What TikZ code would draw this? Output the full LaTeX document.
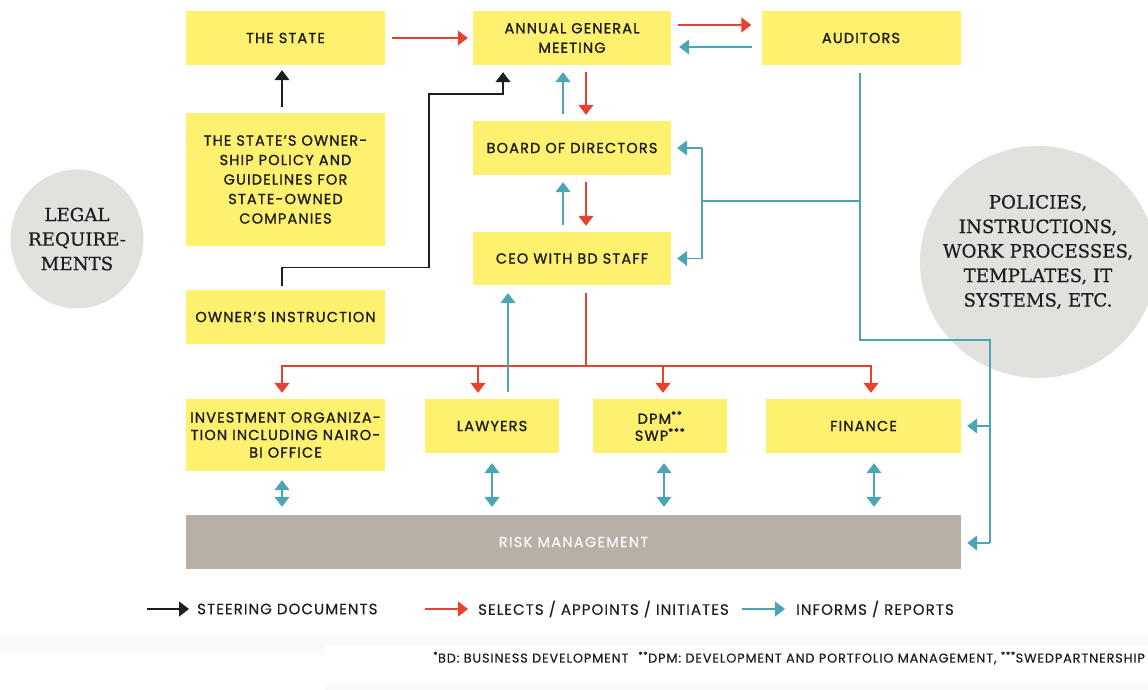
\documentclass[tikz,border=0pt]{standalone}
\usepackage{fontspec}
\setmainfont{Poppins}
\newfontfamily\boxfont{Poppins}[FakeBold=1.3, LetterSpace=8]
\newfontfamily\legfont{Poppins}[FakeBold=0.4, LetterSpace=7]
\newfontfamily\riskfont{Poppins}[FakeBold=0.4, LetterSpace=9]
\newfontfamily\slab{DejaVu Serif}[FakeBold=0.6]
\usetikzlibrary{arrows.meta,calc,shapes.geometric}
\definecolor{boxyellow}{HTML}{FFF170}
\definecolor{riskgray}{HTML}{B8B0A6}
\definecolor{ellgray}{HTML}{E3E1DD}
\definecolor{redc}{HTML}{E8412F}
\definecolor{bluec}{HTML}{4BA5B5}
\definecolor{inkc}{HTML}{1E1E1E}
\definecolor{bandc}{HTML}{FAFAFA}
\tikzset{
  ybox/.style={fill=boxyellow, inner sep=0pt, align=center, text=inkc,
    font=\boxfont\fontsize{14.5}{19.5}\selectfont},
  redln/.style={draw=redc, line width=1.2pt},
  redarr/.style={redln, -{Triangle[width=15pt,length=10pt]}},
  blueln/.style={draw=bluec, line width=1.1pt},
  bluearr/.style={blueln, -{Triangle[width=15pt,length=10pt]}},
  bluedbl/.style={blueln, {Triangle[width=15pt,length=10pt]}-{Triangle[width=15pt,length=10pt]}},
  blkarr/.style={draw=inkc, line width=1.2pt, -{Triangle[width=15pt,length=10pt]}},
  grayell/.style={ellipse, fill=ellgray, inner sep=0pt},
  slabtxt/.style={align=center, text=inkc, inner sep=0pt,
    font=\slab\fontsize{18.2}{24.5}\selectfont},
  legtxt/.style={anchor=west, inner sep=0pt, text=inkc,
    font=\legfont\fontsize{15}{18}\selectfont},
}
\begin{document}
\begin{tikzpicture}[x=1pt,y=-1pt]
\useasboundingbox (0,0) rectangle (1148,690);
\fill[bandc] (0,636) rectangle (1148,690);
\fill[white] (325,645) rectangle (1148,684);
\fill[white] (0,655) rectangle (325,690);

% ellipses
\node[grayell, minimum width=133pt, minimum height=139pt] (legal) at (77,239) {};
\node[slabtxt] (legaltxt) at (77,239) {LEGAL\\REQUIRE-\\MENTS};
\node[grayell, minimum width=236pt, minimum height=232pt] (polell) at (1038,262) {};
\node[slabtxt] (poltxt) at (1038,252) {POLICIES,\\INSTRUCTIONS,\\WORK PROCESSES,\\TEMPLATES, IT\\SYSTEMS, ETC.};

% boxes
\node[ybox, minimum width=199pt, minimum height=54pt] (state) at (285.5,38) {THE STATE};
\node[ybox, minimum width=198pt, minimum height=54pt] (agm) at (572,38) {ANNUAL GENERAL\\MEETING};
\node[ybox, minimum width=199pt, minimum height=54pt] (aud) at (861,38) {AUDITORS};
\node[ybox, minimum width=199pt, minimum height=132pt] (policy) at (285.5,179.5) {THE STATE’S OWNER-\\SHIP POLICY AND\\GUIDELINES FOR\\STATE-OWNED\\COMPANIES};
\node[ybox, minimum width=198pt, minimum height=54pt] (bod) at (572,148) {BOARD OF DIRECTORS};
\node[ybox, minimum width=198pt, minimum height=53pt] (ceo) at (572,258.5) {CEO WITH BD STAFF};
\node[ybox, minimum width=199pt, minimum height=54pt] (owner) at (285.5,317) {OWNER’S INSTRUCTION};
\node[ybox, minimum width=199pt, minimum height=72pt, font=\boxfont\fontsize{14.5}{17.5}\selectfont] (inv) at (285.5,435) {INVESTMENT ORGANIZA-\\TION INCLUDING NAIRO-\\BI OFFICE};
\node[ybox, minimum width=134pt, minimum height=54pt] (law) at (492,426) {LAWYERS};
\node[ybox, minimum width=134pt, minimum height=54pt, font=\boxfont\fontsize{14.5}{17}\selectfont] (dpm) at (660,426) {DPM\textsuperscript{**}\\SWP\textsuperscript{***}};
\node[ybox, minimum width=195pt, minimum height=54pt] (fin) at (863.5,426) {FINANCE};
\node[fill=riskgray, inner sep=0pt, minimum width=775pt, minimum height=54pt, text=white!94!riskgray, font=\riskfont\fontsize{14.5}{17}\selectfont] (risk) at (573.5,542) {RISK MANAGEMENT};

% top row arrows
\draw[redarr, shorten <=7pt, shorten >=5pt] (state.east) -- (agm.west);
\draw[redarr, shorten <=7pt, shorten >=10pt] ([yshift=13pt]agm.east) -- ([yshift=13pt]aud.west);
\draw[bluearr, shorten <=9pt, shorten >=8pt] ([yshift=-9pt]aud.west) -- ([yshift=-9pt]agm.east);

% vertical middle arrows
\draw[redarr, shorten <=7pt, shorten >=6pt] ([xshift=14pt]agm.south) -- ([xshift=14pt]bod.north);
\draw[bluearr, shorten <=7pt, shorten >=7pt] ([xshift=-9pt]bod.north) -- ([xshift=-9pt]agm.south);
\draw[redarr, shorten <=7pt, shorten >=6pt] ([xshift=14pt]bod.south) -- ([xshift=14pt]ceo.north);
\draw[bluearr, shorten <=7pt, shorten >=7pt] ([xshift=-9pt]ceo.north) -- ([xshift=-9pt]bod.south);

% steering documents
\draw[blkarr, shorten <=6pt, shorten >=5pt] ([xshift=-3.5pt]policy.north) -- ([xshift=-3.5pt]state.south);
\coordinate (o2) at (429,94);
\draw[blkarr, shorten <=4pt, shorten >=7pt] ([xshift=-3.5pt]owner.north) -- ++(0,-22) -| (o2) -| ([xshift=-69pt]agm.south);

% CEO selects
\coordinate (hub) at (586,366);
\draw[redln, shorten <=8pt] ([xshift=14pt]ceo.south) -- (hub);
\draw[redarr, shorten >=6pt] (hub) -| ([xshift=-3.5pt]inv.north);
\draw[redarr, shorten >=6pt] (hub) -| ([xshift=-14pt]law.north);
\draw[redarr, shorten >=6pt] (hub) -| ([xshift=3pt]dpm.north);
\draw[redarr, shorten >=6pt] (hub) -| ([xshift=7.5pt]fin.north);

% lawyers report to CEO
\draw[bluearr, shorten <=7pt, shorten >=8pt] ([xshift=16pt]law.north) -- ([xshift=-64pt]ceo.south);

% double arrows to risk
\draw[bluedbl, shorten <=9pt, shorten >=8pt] ([xshift=-3.5pt]inv.south) -- ([xshift=-3.5pt]inv.south |- risk.north);
\draw[bluedbl, shorten <=10pt, shorten >=8pt] (law.south) -- (law.south |- risk.north);
\draw[bluedbl, shorten <=10pt, shorten >=8pt] ([xshift=4pt]dpm.south) -- ([xshift=4pt]dpm.south |- risk.north);
\draw[bluedbl, shorten <=10pt, shorten >=8pt] ([xshift=10.5pt]fin.south) -- ([xshift=10.5pt]fin.south |- risk.north);

% auditors informs
\coordinate (t1) at (860,201);
\coordinate (t2) at (860,340);
\coordinate (t3) at (990,340);
\coordinate (t4) at (990,543);
\coordinate (bx) at (702,201);
\draw[blueln, shorten <=8pt] ([xshift=-1pt]aud.south) -- (t2) -- (t3) -- (t4);
\draw[bluearr, shorten >=6pt] (t4) -- (risk.east |- t4);
\draw[bluearr, shorten >=6pt] (fin.east -| t3) -- (fin.east);
\draw[blueln] (t1) -- (bx);
\draw[blueln] (bx |- bod.east) -- (bx |- ceo.east);
\draw[bluearr, shorten >=6pt] (bx |- bod.east) -- (bod.east);
\draw[bluearr, shorten >=6pt] (bx |- ceo.east) -- (ceo.east);

% legend
\coordinate (k1) at (147,609);
\node[legtxt] (kt1) at (197,609) {STEERING DOCUMENTS};
\draw[blkarr, shorten >=8pt] (k1) -- (kt1.west);
\coordinate (k2) at (425,609);
\node[legtxt] (kt2) at (478,609) {SELECTS / APPOINTS / INITIATES};
\draw[redarr, shorten >=10pt] (k2) -- (kt2.west);
\coordinate (k3) at (742,609);
\node[legtxt] (kt3) at (796,609) {INFORMS / REPORTS};
\draw[bluearr, shorten >=11pt] (k3) -- (kt3.west);

% footnote
\node[anchor=west, inner sep=0pt, text=inkc, font=\legfont\fontsize{12.8}{15}\selectfont] (fn) at (433,658)
  {\textsuperscript{*}BD: BUSINESS DEVELOPMENT\hspace{10pt}\textsuperscript{**}DPM: DEVELOPMENT AND PORTFOLIO MANAGEMENT, \textsuperscript{***}SWEDPARTNERSHIP};
\end{tikzpicture}
\end{document}
